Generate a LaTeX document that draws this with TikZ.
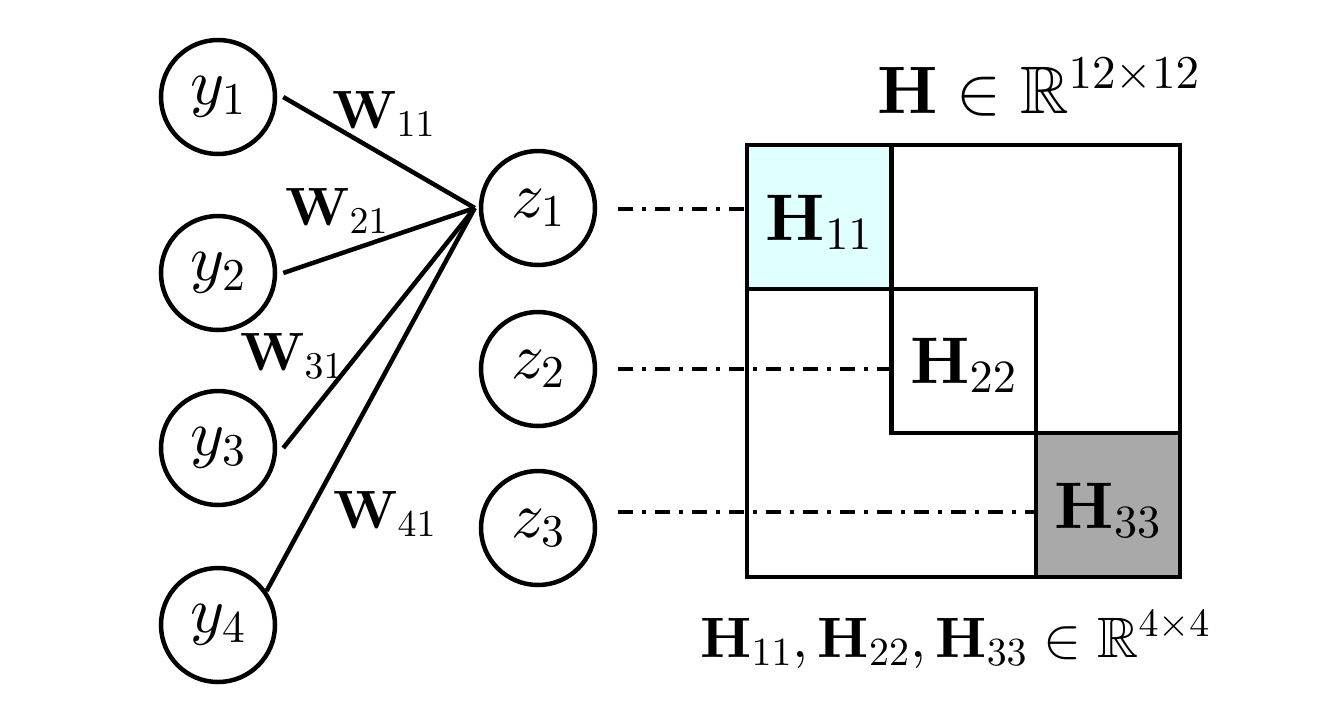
\documentclass[tikz,border=0pt]{standalone}
\usepackage{amsmath,amssymb}
\DeclareFontFamily{OT1}{cmr}{\hyphenchar\font45 }
\DeclareFontShape{OT1}{cmr}{m}{n}{<-6> cmr5 <6-8> cmr7 <8-> cmr10}{}
\DeclareFontShape{OT1}{cmr}{bx}{n}{<-6> cmbx5 <6-8> cmbx7 <8-> cmbx10}{}
\DeclareFontFamily{OML}{cmm}{\skewchar\font127 }
\DeclareFontShape{OML}{cmm}{m}{it}{<-6> cmmi5 <6-8> cmmi7 <8-> cmmi10}{}
\DeclareFontFamily{OMS}{cmsy}{\skewchar\font48 }
\DeclareFontShape{OMS}{cmsy}{m}{n}{<-6> cmsy5 <6-8> cmsy7 <8-> cmsy10}{}
\DeclareFontFamily{OMX}{cmex}{}
\DeclareFontShape{OMX}{cmex}{m}{n}{<-> cmex10}{}
\DeclareFontFamily{U}{msb}{}
\DeclareFontShape{U}{msb}{m}{n}{<-6> msbm5 <6-8> msbm7 <8-> msbm10}{}
\usetikzlibrary{calc}
\definecolor{blockcyan}{HTML}{E0FFFF}
\definecolor{blockgray}{HTML}{A9A9A9}
\tikzset{
  lw/.style={line width=2.25pt},
  neuron/.style={circle, draw, lw, minimum size=57pt, inner sep=0pt, font=\fontsize{32.5}{38}\selectfont},
  wire/.style={lw},
  wlabel/.style={anchor=base west, inner sep=0pt, font=\fontsize{27}{32}\selectfont},
  dashdot/.style={lw, dash pattern=on 7.5pt off 4.5pt on 1.9pt off 4.6pt},
  block/.style={draw, lw, anchor=north west, minimum width=72.2pt, minimum height=72pt, inner sep=0pt, outer sep=0pt},
  blabel/.style={anchor=base, inner sep=0pt, font=\fontsize{33}{40}\selectfont},
  toplabel/.style={anchor=base west, inner sep=0pt, font=\fontsize{33.6}{40}\selectfont},
  botlabel/.style={anchor=base west, inner sep=0pt, font=\fontsize{28.5}{35}\selectfont},
}
\begin{document}
\begin{tikzpicture}[x=0.5pt,y=-0.5pt]
\useasboundingbox (0,0) rectangle (1327,703);
% input neurons
\node[neuron] (y1) at (218,97) {$y_1$};
\node[neuron] (y2) at (218,273) {$y_2$};
\node[neuron] (y3) at (218,448) {$y_3$};
\node[neuron] (y4) at (218,625) {$y_4$};
% output neurons
\node[neuron] (z1) at (538,208) {$z_1$};
\node[neuron] (z2) at (538,369) {$z_2$};
\node[neuron] (z3) at (538,528) {$z_3$};
% wires
\coordinate (j) at ([xshift=-2pt]z1.west);
\draw[wire] ([xshift=3pt]y1.east) -- (j);
\draw[wire] ([xshift=3pt]y2.east) -- (j);
\draw[wire] ([xshift=3pt]y3.east) -- (j);
\draw[wire] (y4.35) -- (j);
% weight labels
\node[wlabel] (w11) at (332,128) {$\mathbf{W}_{11}$};
\node[wlabel] (w21) at (285,225) {$\mathbf{W}_{21}$};
\node[wlabel] (w31) at (240,370) {$\mathbf{W}_{31}$};
\node[wlabel] (w41) at (333,528) {$\mathbf{W}_{41}$};
% matrix
\node[block, fill=blockcyan] (H11) at (747,145) {};
\node[block] (H22) at (H11.south east) {};
\node[block, fill=blockgray] (H33) at (H22.south east) {};
\node[draw, lw, anchor=north west, minimum width=216.5pt, minimum height=216pt, inner sep=0pt, outer sep=0pt] (M) at (747,145) {};
\node[blabel] (l11) at ($(H11.center)+(0,23)$) {$\mathbf{H}_{11}$};
\node[blabel] (l22) at ($(H22.center)+(0,22)$) {$\mathbf{H}_{22}$};
\node[blabel] (l33) at ($(H33.center)+(0,23)$) {$\mathbf{H}_{33}$};
% dash-dot links
\coordinate (d1) at (618,209);
\coordinate (d2) at (618,369);
\coordinate (d3) at (618,512);
\draw[dashdot] (d1) -- (d1 -| H11.west);
\draw[dashdot] (d2) -- (d2 -| H22.west);
\draw[dashdot] (d3) -- (d3 -| H33.west);
% captions
\node[toplabel] (cap1) at (877,113) {$\mathbf{H}\in\mathbb{R}^{12\times12}$};
\node[botlabel] (cap2) at (700,657) {$\mathbf{H}_{11},\mathbf{H}_{22},\mathbf{H}_{33}\in\mathbb{R}^{4\times4}$};
\end{tikzpicture}
\end{document}
